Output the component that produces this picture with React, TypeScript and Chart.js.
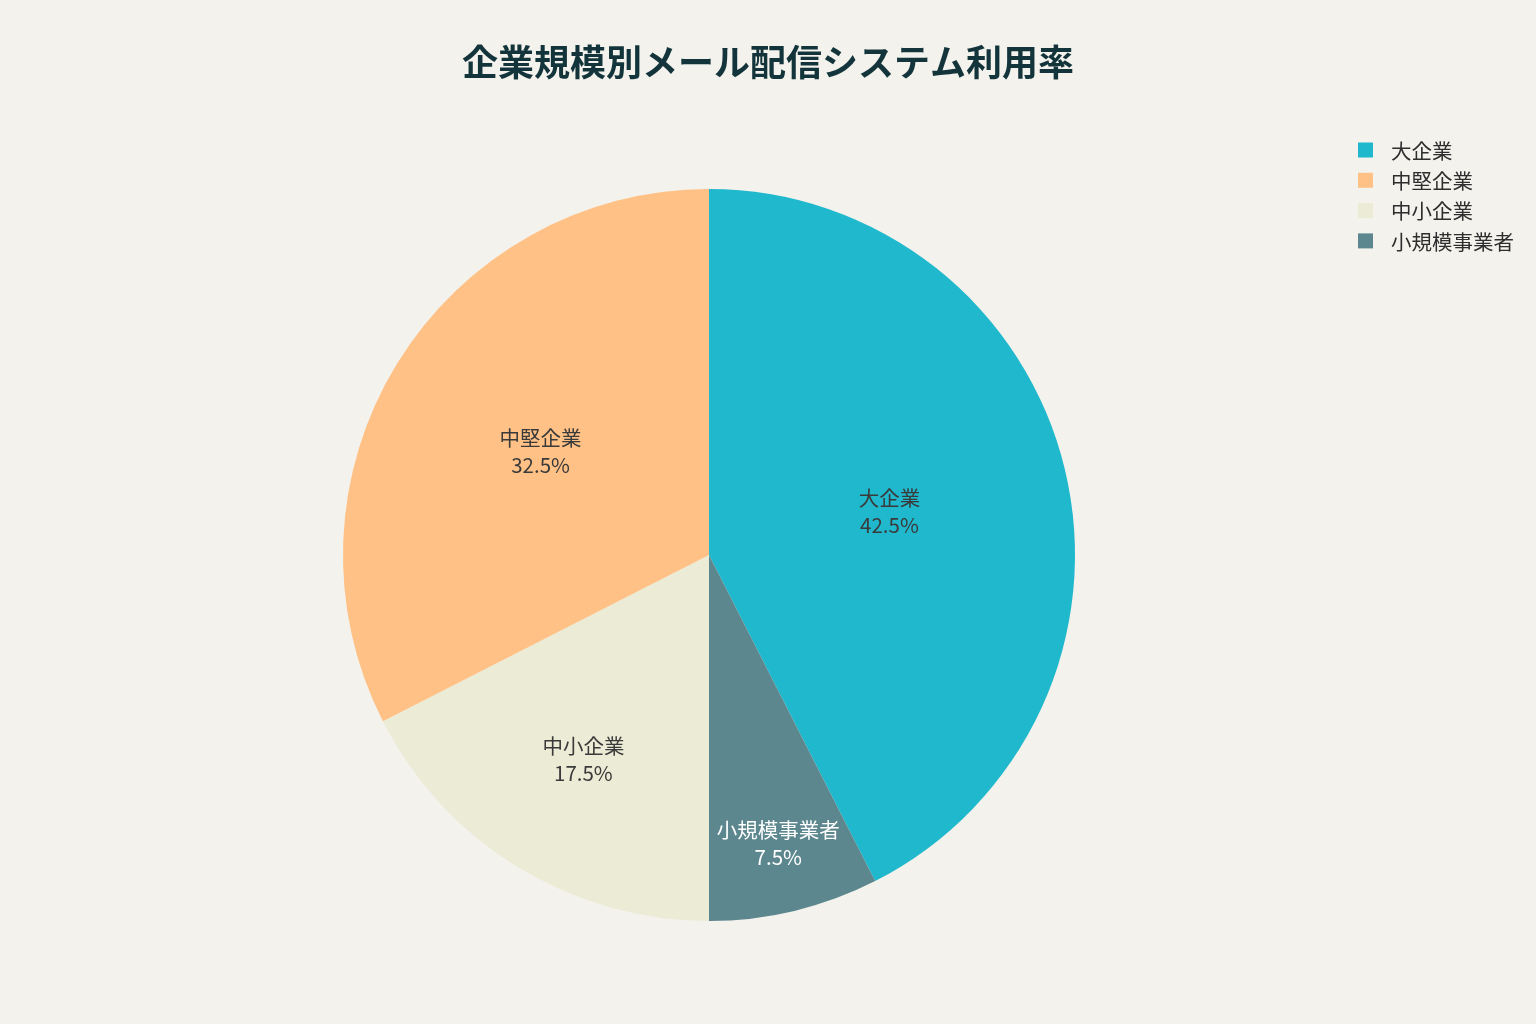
import { useEffect, useRef } from 'react';
import { Chart, registerables, type Plugin } from 'chart.js';

Chart.register(...registerables);

// slices in clockwise order from 12 o'clock
const categories = ['大企業', '小規模事業者', '中小企業', '中堅企業'];
const shares = [42.5, 7.5, 17.5, 32.5];
const sliceColors = ['#1FB8CD', '#5D878F', '#ECEBD5', '#FFC185'];
// legend reads in this order
const legendOrder = ['大企業', '中堅企業', '中小企業', '小規模事業者'];

const titleText = '企業規模別メール配信システム利用率';
const FONT = '"Noto Sans CJK JP", "Noto Sans", sans-serif';
const BG = '#F3F2EC';

function isDark(hex: string) {
  const n = parseInt(hex.slice(1), 16);
  const r = (n >> 16) & 255;
  const g = (n >> 8) & 255;
  const b = n & 255;
  return 0.299 * r + 0.587 * g + 0.114 * b < 140;
}

// plotly-ish inside text: centre of the circle inscribed in the wedge
const sliceLabels: Plugin<'pie'> = {
  id: 'sliceLabels',
  afterDatasetsDraw(chart) {
    const { ctx } = chart;
    const meta = chart.getDatasetMeta(0);
    const total = shares.reduce((a, b) => a + b, 0);
    ctx.save();
    ctx.font = `20.5px ${FONT}`;
    ctx.textAlign = 'center';
    ctx.textBaseline = 'middle';
    meta.data.forEach((el, i) => {
      const arc = el as any;
      const { x, y, startAngle, endAngle, outerRadius } = arc.getProps(
        ['x', 'y', 'startAngle', 'endAngle', 'outerRadius'],
        true,
      );
      const half = (endAngle - startAngle) / 2;
      const mid = startAngle + half;
      const r = half < Math.PI / 2 ? outerRadius / (1 + Math.sin(half)) : outerRadius / 2;
      const cx = x + Math.cos(mid) * r;
      const cy = y + Math.sin(mid) * r;
      ctx.fillStyle = isDark(sliceColors[i]) ? '#ffffff' : '#3a3a3a';
      ctx.fillText(categories[i], cx, cy - 13.5);
      ctx.fillText(`${((shares[i] / total) * 100).toFixed(1)}%`, cx, cy + 13.5);
    });
    ctx.restore();
  },
};

const topRightLegend: Plugin<'pie'> = {
  id: 'topRightLegend',
  afterDraw(chart) {
    const { ctx } = chart;
    ctx.save();
    ctx.font = `20.5px ${FONT}`;
    ctx.textAlign = 'left';
    ctx.textBaseline = 'middle';
    legendOrder.forEach((name, row) => {
      const i = categories.indexOf(name);
      const y = 150 + row * 30.3;
      ctx.fillStyle = sliceColors[i];
      ctx.fillRect(1358, y - 7.5, 15, 15);
      ctx.fillStyle = '#2e2e2e';
      ctx.fillText(name, 1391, y + 1);
    });
    ctx.restore();
  },
};

const pageTitle: Plugin<'pie'> = {
  id: 'pageTitle',
  afterDraw(chart) {
    const { ctx, width } = chart;
    ctx.save();
    ctx.font = `bold 36px ${FONT}`;
    ctx.fillStyle = '#13343B';
    ctx.textAlign = 'center';
    ctx.textBaseline = 'middle';
    ctx.fillText(titleText, width / 2, 62);
    ctx.restore();
  },
};

const background: Plugin<'pie'> = {
  id: 'background',
  beforeDraw(chart) {
    const { ctx, width, height } = chart;
    ctx.save();
    ctx.fillStyle = BG;
    ctx.fillRect(0, 0, width, height);
    ctx.restore();
  },
};

export default function App(): JSX.Element {
  const canvasRef = useRef<HTMLCanvasElement | null>(null);

  useEffect(() => {
    const canvas = canvasRef.current;
    if (!canvas) return;
    const chart = new Chart(canvas, {
      type: 'pie',
      data: {
        labels: categories,
        datasets: [
          {
            data: shares,
            backgroundColor: sliceColors,
            borderWidth: 0,
          },
        ],
      },
      options: {
        responsive: true,
        maintainAspectRatio: false,
        animation: false,
        layout: { padding: { left: 0, right: 118, top: 189, bottom: 103 } },
        plugins: {
          legend: { display: false },
          tooltip: { enabled: false },
          title: { display: false },
        },
      },
      plugins: [background, sliceLabels, topRightLegend, pageTitle],
    });
    return () => chart.destroy();
  }, []);

  return (
    <div style={{ position: 'fixed', left: 0, top: 0, width: 1536, height: 1024, background: BG }}>
      <canvas ref={canvasRef} />
    </div>
  );
}
